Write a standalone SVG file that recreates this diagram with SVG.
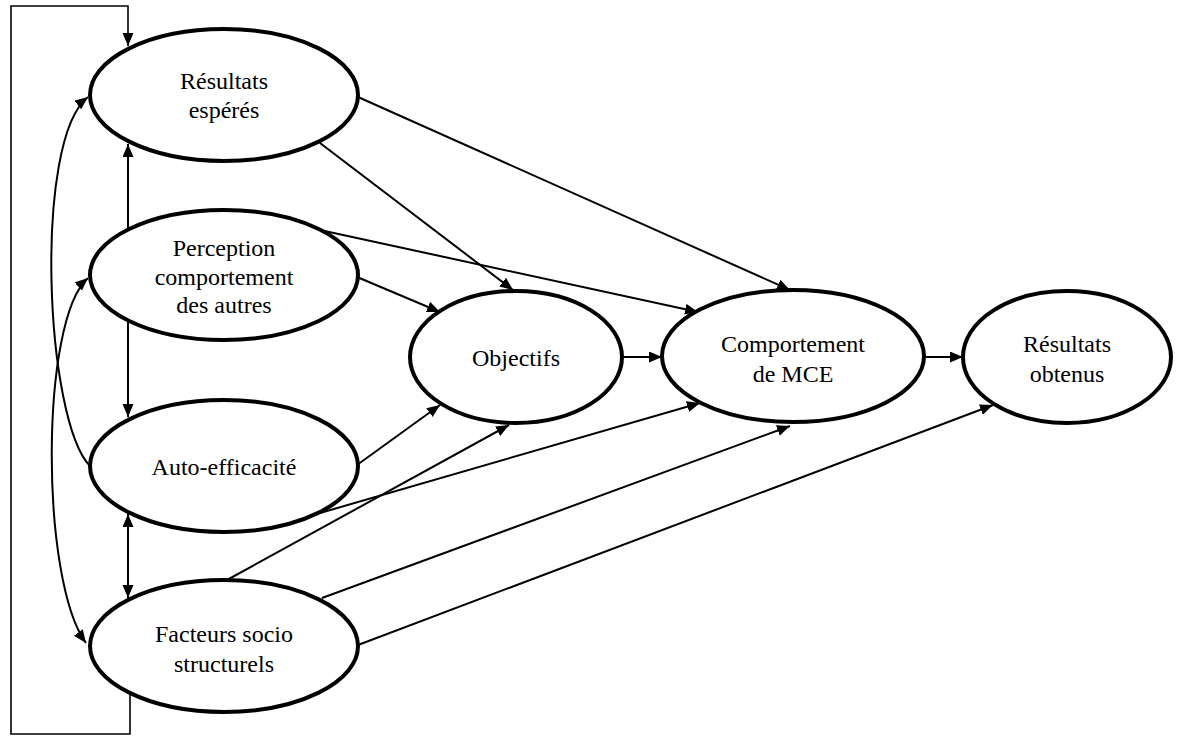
<svg xmlns="http://www.w3.org/2000/svg" width="1180" height="737" viewBox="0 0 1180 737">
<style>
.node ellipse{fill:#fff;stroke:#000;stroke-width:4}
.node text{font-size:24px;fill:#000;text-anchor:middle}
.conn path,.conn line,.conn polyline{fill:none;stroke:#000;stroke-width:2}
.conn .loop{stroke-width:1.6}
</style>
<defs>
<marker id="ah" markerUnits="userSpaceOnUse" markerWidth="14" markerHeight="12" refX="13" refY="5.5" orient="auto-start-reverse" viewBox="0 0 14 12">
<path d="M0,0 L13,5.5 L0,11 z" fill="#000"/>
</marker>
</defs>
<rect width="1180" height="737" fill="#fff"/>
<g font-family="'Liberation Serif', 'Times New Roman', 'DejaVu Serif', serif">
<g id="n-resultats-esperes" class="node">
<ellipse cx="224" cy="95" rx="134" ry="66"/>
<text x="224" y="89">Résultats</text>
<text x="224" y="118">espérés</text>
</g>
<g id="n-perception" class="node">
<ellipse cx="224" cy="275" rx="134" ry="65"/>
<text x="224" y="256">Perception</text>
<text x="224" y="285">comportement</text>
<text x="224" y="313">des autres</text>
</g>
<g id="n-auto-efficacite" class="node">
<ellipse cx="224" cy="466" rx="134" ry="66"/>
<text x="224" y="475">Auto-efficacité</text>
</g>
<g id="n-facteurs" class="node">
<ellipse cx="224" cy="646" rx="134" ry="66"/>
<text x="224" y="642">Facteurs socio</text>
<text x="224" y="672">structurels</text>
</g>
<g id="n-objectifs" class="node">
<ellipse cx="516" cy="357" rx="106" ry="66"/>
<text x="516" y="366">Objectifs</text>
</g>
<g id="n-comportement" class="node">
<ellipse cx="793" cy="356" rx="131" ry="66"/>
<text x="793" y="352">Comportement</text>
<text x="793" y="382">de MCE</text>
</g>
<g id="n-resultats-obtenus" class="node">
<ellipse cx="1067" cy="357" rx="104" ry="66"/>
<text x="1067" y="352">Résultats</text>
<text x="1067" y="382">obtenus</text>
</g>
</g>
<g id="connectors" class="conn">
<polyline class="loop" points="130,695 130,734 11,734 11,6 128,6 128,46" marker-end="url(#ah)"/>
<line x1="128" y1="230" x2="128" y2="144" marker-end="url(#ah)"/>
<line x1="128" y1="321" x2="128" y2="417" marker-end="url(#ah)"/>
<line x1="128" y1="514" x2="128" y2="598" marker-start="url(#ah)" marker-end="url(#ah)"/>
<path d="M90,466 C45,420 33,140 88,97" marker-end="url(#ah)"/>
<path d="M88,278 C40,320 40,580 86,643" marker-start="url(#ah)" marker-end="url(#ah)"/>
<line x1="358" y1="97" x2="790" y2="290" marker-end="url(#ah)"/>
<line x1="320" y1="143" x2="513" y2="290" marker-end="url(#ah)"/>
<line x1="320" y1="230" x2="698" y2="312" marker-end="url(#ah)"/>
<line x1="357" y1="277" x2="440" y2="312" marker-end="url(#ah)"/>
<line x1="622" y1="357" x2="662" y2="357" marker-end="url(#ah)"/>
<line x1="925" y1="357" x2="963" y2="357" marker-end="url(#ah)"/>
<line x1="357" y1="465" x2="440" y2="405" marker-end="url(#ah)"/>
<line x1="320" y1="513" x2="700" y2="403" marker-end="url(#ah)"/>
<line x1="227" y1="580" x2="509" y2="425" marker-end="url(#ah)"/>
<line x1="322" y1="598" x2="790" y2="426" marker-end="url(#ah)"/>
<line x1="358" y1="645" x2="993" y2="405" marker-end="url(#ah)"/>
</g>
</svg>
